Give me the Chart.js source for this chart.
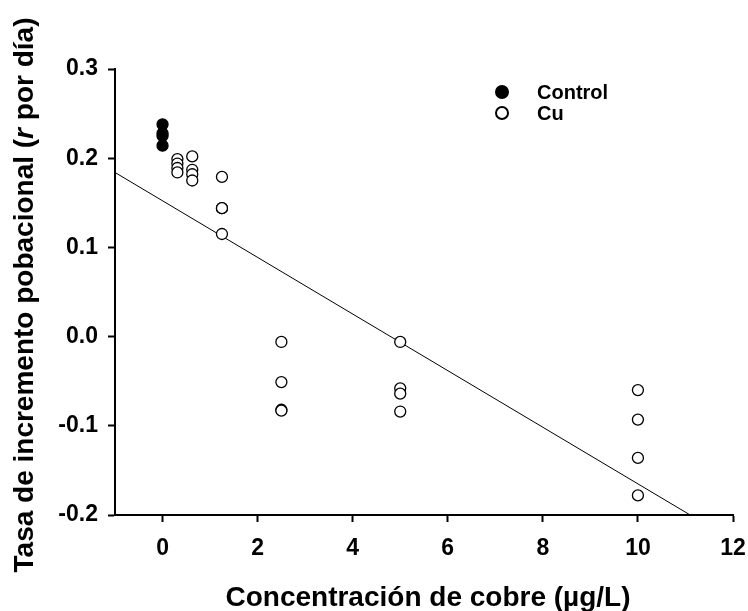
<!DOCTYPE html>
<html>
<head>
<meta charset="utf-8">
<script src="https://cdn.jsdelivr.net/npm/chart.js@4"></script>
<style>
  html, body { margin: 0; padding: 0; background: #fff; }
  #wrap { width: 748px; height: 611px; position: relative; }
</style>
</head>
<body>
<div id="wrap"><canvas id="chart" width="748" height="611"></canvas></div>
<script>
// control data (0 µg/L)
const controlX = [0, 0, 0, 0];
const controlY = [0.238, 0.228, 0.225, 0.214];

// copper treatments
const cuX = [0.3125, 0.3125, 0.3125, 0.3125,
             0.625, 0.625, 0.625, 0.625,
             1.25, 1.25, 1.25, 1.25,
             2.5, 2.5, 2.5, 2.5,
             5, 5, 5, 5,
             10, 10, 10, 10];
const cuY = [0.199, 0.194, 0.189, 0.184,
             0.202, 0.187, 0.182, 0.175,
             0.179, 0.144, 0.144, 0.115,
             -0.006, -0.051, -0.082, -0.083,
             -0.006, -0.058, -0.064, -0.084,
             -0.060, -0.093, -0.136, -0.178];

// fitted line end points
const fitX = [-1, 11.1];
const fitY = [0.184, -0.2];

const xTicks = [0, 2, 4, 6, 8, 10, 12];
const yTicks = [-0.2, -0.1, 0.0, 0.1, 0.2, 0.3];

const legendLabels = ["Control", "Cu"];
const xTitle = "Concentración de cobre (µg/L)";
const yTitleParts = ["Tasa de incremento pobacional (", "r", " por día)"];

const FONT = "'Liberation Sans', Arial, sans-serif";

function toPoints(xs, ys) {
    return xs.map((x, i) => ({ x: x, y: ys[i] }));
}

// titles and legend drawn by hand (italic r in the y title)
const extras = {
    id: "extras",
    afterDraw(chart) {
        const ctx = chart.ctx;
        const area = chart.chartArea;
        ctx.save();
        ctx.fillStyle = "#000";
        ctx.textBaseline = "alphabetic";

        // x title
        ctx.font = "bold 28px " + FONT;
        ctx.textAlign = "center";
        ctx.fillText(xTitle, (area.left + area.right) / 2 + 4, 606);

        // y title
        const fonts = ["bold 28px " + FONT, "italic bold 28px " + FONT, "bold 28px " + FONT];
        let widths = yTitleParts.map((t, i) => {
            ctx.font = fonts[i];
            return ctx.measureText(t).width;
        });
        let total = widths.reduce((a, b) => a + b, 0);
        ctx.translate(33, 295);
        ctx.rotate(-Math.PI / 2);
        ctx.textAlign = "left";
        let pos = -total / 2;
        yTitleParts.forEach((t, i) => {
            ctx.font = fonts[i];
            ctx.fillText(t, pos, 0);
            pos += widths[i];
        });
        ctx.setTransform(1, 0, 0, 1, 0, 0);

        // legend
        ctx.font = "bold 20px " + FONT;
        ctx.textBaseline = "middle";
        legendLabels.forEach((label, i) => {
            let y = 92 + i * 21;
            let ds = chart.data.datasets[i];
            ctx.beginPath();
            ctx.arc(502, y, 6, 0, Math.PI * 2);
            ctx.fillStyle = ds.backgroundColor;
            ctx.fill();
            ctx.lineWidth = 2;
            ctx.strokeStyle = "#000";
            ctx.stroke();
            ctx.fillStyle = "#000";
            ctx.textAlign = "left";
            ctx.fillText(label, 537, y + 1);
        });
        ctx.restore();
    }
};

function main() {
    let ctx = document.getElementById("chart");
    new Chart(ctx, {
        type: "scatter",
        data: {
            datasets: [
                {
                    label: legendLabels[0],
                    data: toPoints(controlX, controlY),
                    backgroundColor: "#000",
                    borderColor: "#000",
                    borderWidth: 1.3,
                    pointRadius: 5.5,
                    order: 0
                },
                {
                    label: legendLabels[1],
                    data: toPoints(cuX, cuY),
                    backgroundColor: "#fff",
                    borderColor: "#000",
                    borderWidth: 1.3,
                    pointRadius: 5.5,
                    order: 1
                },
                {
                    label: "fit",
                    type: "line",
                    data: toPoints(fitX, fitY),
                    borderColor: "#000",
                    borderWidth: 1,
                    pointRadius: 0,
                    fill: false,
                    order: 2
                }
            ]
        },
        options: {
            responsive: false,
            animation: false,
            events: [],
            layout: { padding: { top: 69, right: 0, left: 0, bottom: 0 } },
            plugins: {
                legend: { display: false },
                tooltip: { enabled: false }
            },
            scales: {
                x: {
                    type: "linear",
                    min: -1,
                    max: 12,
                    afterBuildTicks: axis => {
                        axis.ticks = xTicks.map(v => ({ value: v }));
                    },
                    afterFit: axis => {
                        axis.height = 96;
                        axis.paddingLeft = 0;
                        axis.paddingRight = 15;
                    },
                    grid: {
                        display: true,
                        drawOnChartArea: false,
                        drawTicks: true,
                        tickLength: 7,
                        tickWidth: 2,
                        color: "#000"
                    },
                    border: { display: true, color: "#000", width: 2 },
                    ticks: {
                        color: "#000",
                        padding: 13,
                        maxRotation: 0,
                        font: { family: FONT, size: 23, weight: "bold" }
                    }
                },
                y: {
                    type: "linear",
                    min: -0.2,
                    max: 0.3,
                    afterBuildTicks: axis => {
                        axis.ticks = yTicks.map(v => ({ value: v }));
                    },
                    afterFit: axis => { axis.width = 115; },
                    grid: {
                        display: true,
                        drawOnChartArea: false,
                        drawTicks: true,
                        tickLength: 7,
                        tickWidth: 2,
                        color: "#000"
                    },
                    border: { display: true, color: "#000", width: 2 },
                    ticks: {
                        color: "#000",
                        padding: 10,
                        callback: v => v.toFixed(1),
                        font: { family: FONT, size: 23, weight: "bold" }
                    }
                }
            }
        },
        plugins: [extras]
    });
}

document.addEventListener("DOMContentLoaded", main);
</script>
</body>
</html>
